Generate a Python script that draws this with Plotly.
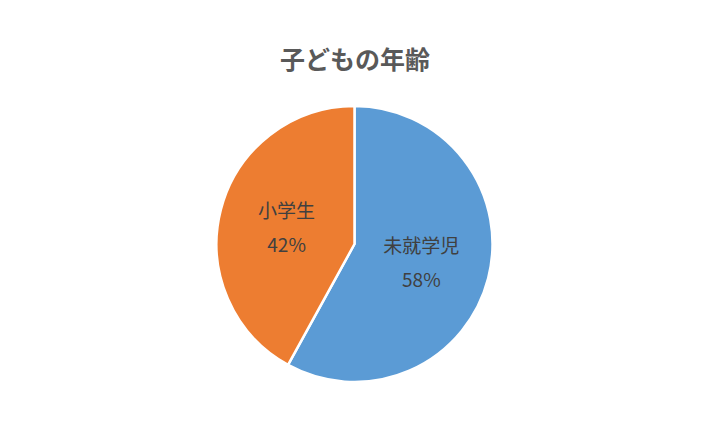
import plotly.graph_objects as go

# === DADOS ===
categorias = ['未就学児', '小学生']
valores = [58, 42]
cores = ['#5B9BD5', '#ED7D31']

# página tem margem de 8px no body -> compensar
fig = go.Figure(go.Pie(
    labels=categorias,
    values=valores,
    sort=False,
    direction='clockwise',
    rotation=0,
    marker=dict(colors=cores, line=dict(color='white', width=2.5)),
    # fonte base maior só para abrir o espaçamento entre as linhas
    texttemplate=('<span style="font-size:19px">%{label}</span><br>'
                  '<span style="font-size:19px">%{percent:.0%}</span>'),
    textposition='inside',
    insidetextorientation='horizontal',
    textfont=dict(family='Noto Sans CJK JP', size=26, color='#404040'),
    hoverinfo='label+percent',
    domain=dict(x=[208 / 708, 485 / 708], y=[48 / 422, 324 / 422]),
))

fig.update_layout(
    width=708,
    height=422,
    margin=dict(l=0, r=0, t=0, b=0),
    paper_bgcolor='white',
    showlegend=False,
    title=dict(
        text='<b>子どもの年齢</b>',
        x=347 / 708, xanchor='center',
        y=1 - 52 / 422, yanchor='middle',
        font=dict(family='Noto Sans CJK JP', size=25, color='#595959'),
    ),
)

fig.write_html('out.html')
